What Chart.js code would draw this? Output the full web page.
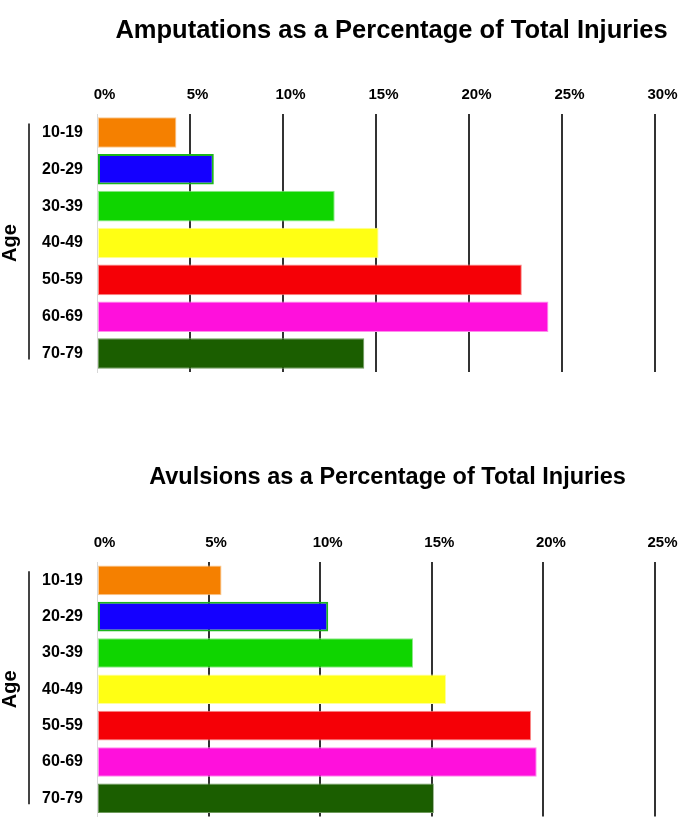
<!DOCTYPE html>
<html>
<head>
<meta charset="utf-8">
<script src="https://cdn.jsdelivr.net/npm/chart.js@4/dist/chart.umd.min.js"></script>
<style>
  html, body { margin: 0; padding: 0; background: #ffffff; }
  canvas { display: block; }
</style>
</head>
<body>
<canvas id="amp" width="684" height="448"></canvas>
<canvas id="avu" width="684" height="392"></canvas>
<script>
// ---- data ----
const ageGroups = ['10-19', '20-29', '30-39', '40-49', '50-59', '60-69', '70-79'];
const amputationPct = [4.27, 6.28, 12.78, 15.14, 22.84, 24.27, 14.37];
const avulsionPct = [5.58, 10.36, 14.16, 15.64, 19.45, 19.70, 15.09];
const amputationTicks = [0, 5, 10, 15, 20, 25, 30];
const avulsionTicks = [0, 5, 10, 15, 20, 25];
const amputationTitle = 'Amputations as a Percentage of Total Injuries';
const avulsionTitle = 'Avulsions as a Percentage of Total Injuries';
const axisTitle = 'Age';

// ---- styles ----
const barColors = ['#F58000', '#1400FF', '#0FD500', '#FFFF14', '#F50006', '#FF10DC', '#1B5E00'];
const barBorders = ['#F9C890', '#1DB51D', '#8FE88A', '#FFFF9A', '#F98A8A', '#FF8CEC', '#6E9A5C'];
const barBorderWidths = [1, 2, 1, 1, 1, 1, 1];
const FONT = "'Liberation Sans', Arial, Helvetica, sans-serif";

const bracketPlugin = {
  id: 'bracket',
  afterDraw(chart, args, opts) {
    const y = chart.scales.y;
    const ctx = chart.ctx;
    const x = y.left + 29;
    const top = y.getPixelForValue(0) - 9;
    const bottom = y.getPixelForValue(ageGroups.length - 1) + 6;
    ctx.save();
    ctx.strokeStyle = '#444444';
    ctx.lineWidth = 2;
    ctx.beginPath();
    ctx.moveTo(x, top);
    ctx.lineTo(x, bottom);
    ctx.stroke();
    ctx.restore();
  }
};

const titleShiftPlugin = {
  id: 'titleShift',
  afterLayout(chart, args, opts) {
    if (chart.titleBlock) {
      const s = opts.shift || 0;
      chart.titleBlock.left += s;
      chart.titleBlock.right += s;
    }
  }
};

function makeChart(id, values, ticks, titleText, titleSize, titleShift, padBottom, barPct, titlePadTop, titlePadBottom) {
  const maxVal = ticks[ticks.length - 1];
  return new Chart(document.getElementById(id), {
    type: 'bar',
    data: {
      labels: ageGroups,
      datasets: [{
        data: values,
        backgroundColor: barColors,
        borderColor: barBorders,
        borderWidth: barBorderWidths,
        borderSkipped: false,
        barPercentage: barPct,
        categoryPercentage: 1.0
      }]
    },
    options: {
      indexAxis: 'y',
      responsive: false,
      animation: false,
      events: [],
      layout: { padding: { left: 0, right: 29, top: 0, bottom: padBottom } },
      plugins: {
        legend: { display: false },
        tooltip: { enabled: false },
        title: {
          display: true,
          text: titleText,
          color: '#000000',
          font: { family: FONT, size: titleSize, weight: 'bold' },
          padding: { top: titlePadTop, bottom: titlePadBottom }
        },
        titleShift: { shift: titleShift }
      },
      scales: {
        x: {
          position: 'top',
          min: 0,
          max: maxVal,
          afterBuildTicks(scale) {
            scale.ticks = ticks.map(v => ({ value: v }));
          },
          ticks: {
            color: '#000000',
            font: { family: FONT, size: 15, weight: 'bold' },
            padding: 10,
            labelOffset: 7.5,
            maxRotation: 0,
            callback: (v) => v + '%'
          },
          grid: {
            drawTicks: false,
            color: (ctx) => ctx.index === 0 ? 'rgba(0,0,0,0)' : '#333333',
            lineWidth: 2
          },
          border: { display: false }
        },
        y: {
          afterFit(scale) { scale.width = 97; },
          ticks: {
            color: '#000000',
            font: { family: FONT, size: 16, weight: 'bold' },
            padding: 14
          },
          grid: { display: false, drawTicks: false },
          border: { display: true, color: '#d8d8d8', width: 1 },
          title: {
            display: true,
            text: axisTitle,
            color: '#000000',
            font: { family: FONT, size: 20, weight: 'bold', lineHeight: 1 },
            padding: 0
          }
        }
      }
    },
    plugins: [bracketPlugin, titleShiftPlugin]
  });
}

makeChart('amp', amputationPct, amputationTicks, amputationTitle, 25.5, 64, 76, 0.83, 16, 29.4);
makeChart('avu', avulsionPct, avulsionTicks, avulsionTitle, 23.5, 60, 17, 0.815, 15, 33);
</script>
</body>
</html>
